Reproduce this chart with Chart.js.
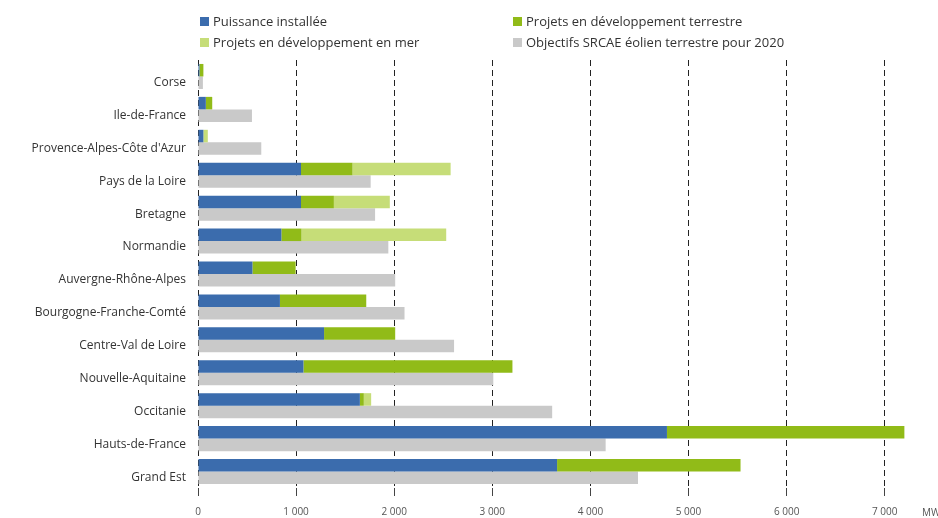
<!DOCTYPE html>
<html lang="fr">
<head>
  <meta charset="UTF-8" />
  <title>Éolien par région</title>
  <script src="https://cdn.jsdelivr.net/npm/chart.js"></script>
  <style>
    html, body { margin: 0; padding: 0; background: #ffffff; }
    .wrap { position: relative; width: 938px; height: 518px; }
    .legend { position: absolute; top: 0; left: 0; width: 938px; font-family: "Open Sans", sans-serif; font-size: 13px; color: #333; }
    .legend .item { position: absolute; display: flex; align-items: center; white-space: nowrap; }
    .legend .box { width: 9px; height: 9px; margin-right: 4px; }
  </style>
</head>
<body>
  <div class="wrap">
    <canvas id="chart" width="938" height="518"></canvas>
    <div class="legend" id="legend"></div>
  </div>

  <script>
    const regions = [
      'Corse', 'Ile-de-France', "Provence-Alpes-Côte d'Azur", 'Pays de la Loire',
      'Bretagne', 'Normandie', 'Auvergne-Rhône-Alpes', 'Bourgogne-Franche-Comté',
      'Centre-Val de Loire', 'Nouvelle-Aquitaine', 'Occitanie', 'Hauts-de-France', 'Grand Est'
    ];
    // MW
    const installee = [15, 80, 55, 1050, 1050, 850, 555, 835, 1285, 1075, 1650, 4780, 3660];
    const projetsTerre = [40, 65, 0, 525, 335, 205, 440, 880, 725, 2130, 40, 2420, 1870];
    const projetsMer = [0, 0, 45, 1000, 570, 1475, 0, 0, 0, 0, 75, 0, 0];
    const objectifs = [50, 550, 645, 1760, 1805, 1940, 2010, 2105, 2610, 3010, 3610, 4155, 4485];
    const xTicks = [0, 1000, 2000, 3000, 4000, 5000, 6000, 7000];

    const datasets = [
      { label: 'Puissance installée', data: installee, backgroundColor: '#3b6cad', stack: 'a' },
      { label: 'Projets en développement terrestre', data: projetsTerre, backgroundColor: '#91bb18', stack: 'a' },
      { label: 'Projets en développement en mer', data: projetsMer, backgroundColor: '#c6dd78', stack: 'a' },
      { label: 'Objectifs SRCAE éolien terrestre pour 2020', data: objectifs, backgroundColor: '#c9c9c9', stack: 'b' }
    ];

    // legend in two columns, like the original
    const legendPos = [[200, 12], [513, 12], [200, 33], [513, 33]];
    const legend = document.getElementById('legend');
    datasets.forEach((ds, i) => {
      const el = document.createElement('div');
      el.className = 'item';
      el.style.left = legendPos[i][0] + 'px';
      el.style.top = legendPos[i][1] + 'px';
      el.innerHTML = `<span class="box" style="background:${ds.backgroundColor}"></span>${ds.label}`;
      legend.appendChild(el);
    });

    const fmt = v => String(v).replace(/\B(?=(\d{3})+(?!\d))/g, ' ');

    // "MW" unit at the right end of the x axis
    const unitLabel = {
      id: 'unitLabel',
      afterDraw(chart) {
        const ctx = chart.ctx;
        ctx.save();
        ctx.font = '10px "Open Sans", sans-serif';
        ctx.fillStyle = '#555';
        ctx.textAlign = 'center';
        ctx.textBaseline = 'middle';
        ctx.fillText('MW', 931, 513);
        ctx.restore();
      }
    };

    new Chart(document.getElementById('chart'), {
      type: 'bar',
      data: { labels: regions, datasets: datasets },
      options: {
        indexAxis: 'y',
        responsive: false,
        animation: false,
        layout: { padding: { top: 60, right: 14, left: 0, bottom: 0 } },
        datasets: { bar: { categoryPercentage: 0.76, barPercentage: 1.0 } },
        plugins: { legend: { display: false }, tooltip: { enabled: false } },
        scales: {
          x: {
            min: 0,
            max: 7400,
            afterBuildTicks: scale => { scale.ticks = xTicks.map(v => ({ value: v })); },
            afterFit: scale => { scale.height = 30; },
            grid: { color: '#222', tickLength: 8, tickColor: '#444' },
            border: { display: false, dash: [6, 4] },
            ticks: {
              padding: 10,
              color: '#555',
              font: { family: 'Open Sans', size: 10 },
              callback: v => fmt(v)
            }
          },
          y: {
            stacked: true,
            afterFit: scale => { scale.width = 198; },
            grid: { display: false },
            border: { display: false },
            ticks: {
              padding: 4,
              labelOffset: 6,
              color: '#333',
              font: { family: 'Open Sans', size: 12 }
            }
          }
        }
      },
      plugins: [unitLabel]
    });
  </script>
</body>
</html>
